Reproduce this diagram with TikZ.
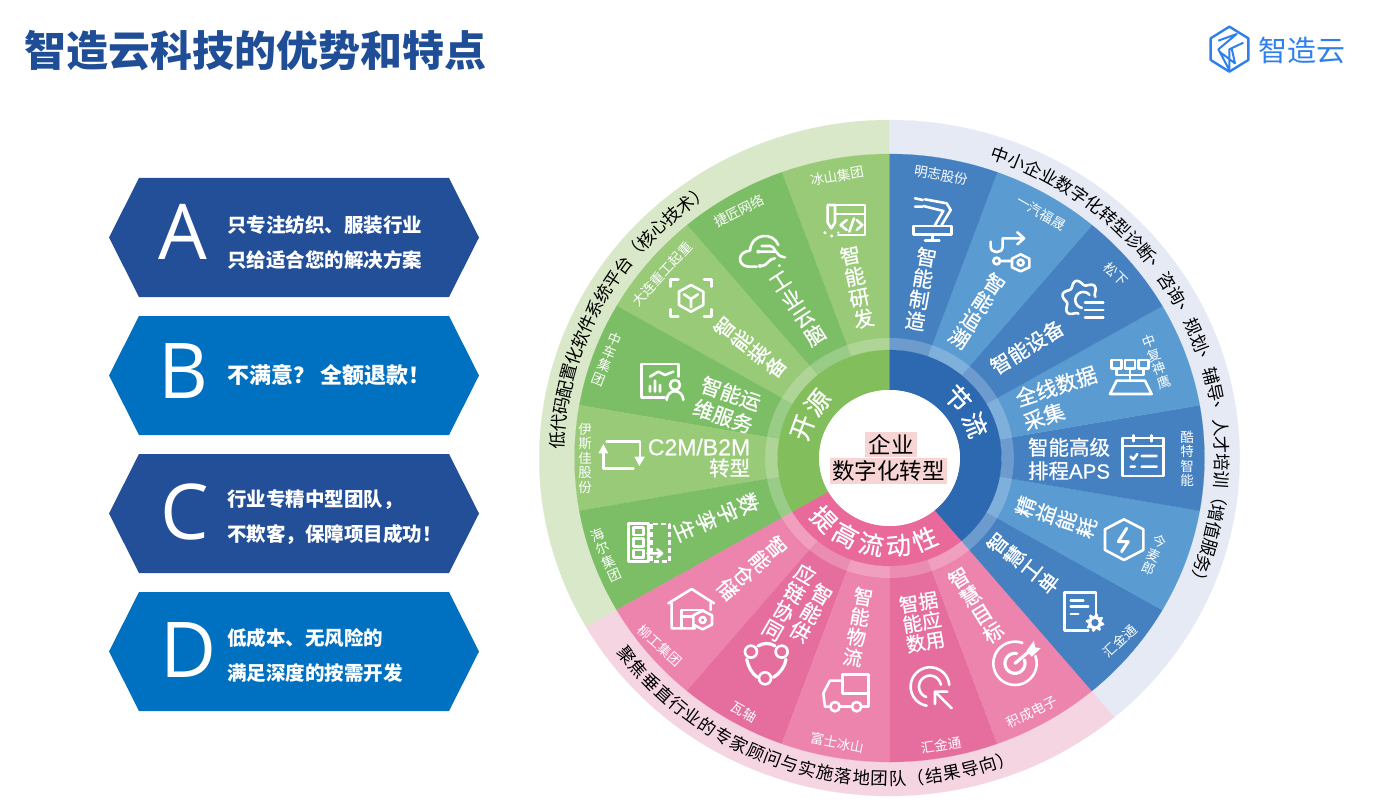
\documentclass[tikz,border=0pt]{standalone}
\usepackage{fontspec}
\setmainfont{Noto Sans CJK SC}
\newfontfamily\letterfont{Open Sans}
\newfontfamily\medfont[FakeBold=.7]{Noto Sans CJK SC}
\newfontfamily\latinfont[FakeBold=.4]{Liberation Sans}
\usetikzlibrary{positioning}
\definecolor{hexdark}{HTML}{234F99}
\definecolor{hexblue}{HTML}{0070C0}
\definecolor{titleblue}{HTML}{1F4E96}
\definecolor{logoblue}{HTML}{2F80ED}
\definecolor{blueA}{HTML}{4580C0}
\definecolor{blueB}{HTML}{5A9BD2}
\definecolor{blueC}{HTML}{2C69B1}
\definecolor{bluePale}{HTML}{E6EAF5}
\definecolor{greenA}{HTML}{98CA78}
\definecolor{greenB}{HTML}{7CBE66}
\definecolor{greenC}{HTML}{82BE5C}
\definecolor{greenPale}{HTML}{D9E8C8}
\definecolor{pinkA}{HTML}{EC84AE}
\definecolor{pinkB}{HTML}{E66E9E}
\definecolor{pinkC}{HTML}{E8699A}
\definecolor{pinkPale}{HTML}{F5D5E1}
\definecolor{hiPink}{HTML}{F8D5D5}
\newcommand{\annsec}[5]{\fill[#5,draw=#5,line width=.2] (#1:#3) arc[start angle=#1,end angle=#2,radius=#3] -- (#2:#4) arc[start angle=#2,end angle=#1,radius=#4] -- cycle;}
\begin{document}
\begin{tikzpicture}[x=1pt,y=-1pt]
    \tikzstyle{every node}=[inner sep=0pt,outer sep=0pt]
    \tikzstyle{hextext}=[white,anchor=west,font=\fontsize{19.5}{24}\selectfont\bfseries]
    \tikzstyle{hexletter}=[white,font=\fontsize{77}{77}\selectfont\letterfont]
    \tikzstyle{secname}=[white,align=center,font=\fontsize{20.5}{21.5}\selectfont\medfont]
    \tikzstyle{company}=[white,align=center,font=\fontsize{13.5}{14.5}\selectfont]
    \tikzstyle{ringr}=[font=\fontsize{17.5}{18}\selectfont]
    \tikzstyle{hubr}=[white,font=\fontsize{25}{26}\selectfont\medfont]
    \tikzstyle{icon}=[draw=white,line width=2.6pt,line cap=round,line join=round,fill=none]
    \useasboundingbox (0,0) rectangle (1394,805);

    \node[anchor=west,text=titleblue,font=\fontsize{42}{46}\selectfont\bfseries] (title) at (24,51) {智造云科技的优势和特点};
    \node[anchor=west,text=logoblue,font=\fontsize{29}{30}\selectfont] (logotext) at (1258,50) {智造云};

    % logo mark
    \begin{scope}[shift={(1190,10)},x=.3333pt,y=-.3333pt]
        \draw[logoblue,line width=2.4pt,line join=round] (118,50) -- (175,85) -- (175,150) -- (118,185) -- (62,150) -- (62,85) -- cycle;
        \draw[logoblue,line width=2pt,line join=round] (85,92) -- (140,72) -- (85,118) -- (118,180) (160,98) -- (118,118) -- (118,180) (88,125) -- (135,160) -- (125,115);
    \end{scope}

    % hexagons on the left
    \foreach \n/\yy/\cc/\ll/\lx/\ly in {a/237.5/hexdark/A/183/232,b/375.5/hexblue/B/183/371,c/513.5/hexdark/C/185/512,d/651.5/hexblue/D/189/650} {
        \fill[\cc] (109,\yy) -- (139,\yy-59.5) -- (449,\yy-59.5) -- (479,\yy) -- (449,\yy+59.5) -- (139,\yy+59.5) -- cycle;
        \node[hexletter] (let\n) at (\lx,\ly) {\ll};
    }
    \node[hextext] (a1) at (227,225) {只专注纺织、服装行业};
    \node[hextext] (a2) at (227,260) {只给适合您的解决方案};
    \node[hextext,font=\fontsize{22}{24}\selectfont\bfseries] (b1) at (227,375) {不满意？\hspace{6pt}全额退款！};
    \node[hextext] (c1) at (227,500) {行业专精中型团队，};
    \node[hextext] (c2) at (227,535) {不欺客，保障项目成功！};
    \node[hextext] (d1) at (227,638) {低成本、无风险的};
    \node[hextext] (d2) at (227,673) {满足深度的按需开发};

    % the wheel
    \begin{scope}[shift={(889.5,458)},y=1pt,xscale=1.036]
        \annsec{90}{210}{304}{338}{greenPale}
        \annsec{210}{310}{304}{338}{pinkPale}
        \annsec{310}{450}{304}{338}{bluePale}
        \foreach \s/\cc in {90/greenA,110/greenB,130/greenA,150/greenB,170/greenA,190/greenB,210/pinkA,230/pinkB,250/pinkA,270/pinkB,290/pinkA,310/blueA,330/blueB,350/blueA,370/blueB,390/blueA,410/blueB,430/blueA} {
            \pgfmathtruncatemacro{\e}{\s+20}
            \annsec{\s}{\e}{108}{304}{\cc}
        }
        \fill[white,opacity=.22,even odd rule] (0,0) circle (120) (0,0) circle (108);
        \annsec{90}{210}{68}{108}{greenC}
        \annsec{210}{310}{68}{108}{pinkC}
        \annsec{310}{450}{68}{108}{blueC}
        \fill[white] (0,0) circle (68);

        \foreach \ch [count=\i from 0] in {中,小,企,业,数,字,化,转,型,诊,断,、,咨,询,、,规,划,、,辅,导,、,人,才,培,训,（,增,值,服,务,）} {
            \pgfmathsetmacro{\ang}{70.6-\i*3.1}
            \node[ringr,rotate=\ang-90] (bc\i) at (\ang:321) {\ch};
        }
        \foreach \ch [count=\i from 0] in {低,代,码,配,置,化,软,件,系,统,平,台,（,核,心,技,术,）} {
            \pgfmathsetmacro{\ang}{176.8-\i*3.06}
            \node[ringr,rotate=\ang-90] (gc\i) at (\ang:321) {\ch};
        }
        \foreach \ch [count=\i from 0] in {聚,焦,垂,直,行,业,的,专,家,顾,问,与,实,施,落,地,团,队,（,结,果,导,向,）} {
            \pgfmathsetmacro{\ang}{217.9+\i*3.15}
            \node[ringr,rotate=\ang+90] (pc\i) at (\ang:321) {\ch};
        }
        \foreach \ch/\ang/\nm in {节/42/jie,流/22/liu,开/160/kai,源/141.5/yuan} {
            \node[hubr,rotate=\ang-90] (hub\nm) at (\ang:89) {\ch};
        }
        \foreach \ch [count=\i from 0] in {提,高,流,动,性} {
            \pgfmathsetmacro{\ang}{224+\i*17.2}
            \node[hubr,rotate=\ang+90] (hc\i) at (\ang:88) {\ch};
        }
    \end{scope}

    \node[fill=hiPink,minimum width=52pt,minimum height=25pt,font=\fontsize{22.5}{24}\selectfont] (hub1) at (891,444.5) {企业};
    \node[fill=hiPink,minimum width=117pt,minimum height=26pt,font=\fontsize{22.5}{24}\selectfont] (hub2) at (888.5,470.5) {数字化转型};

    % sector names
    \node[secname,rotate=-10] (s1) at (921,289) {智\\能\\制\\造};
    \node[secname,rotate=-33] (s2) at (977,311) {智\\能\\追\\溯};
    \node[secname,rotate=32] (s3) at (1027,347) {智能设备};
    \node[secname,rotate=18,align=left,font=\fontsize{21}{25}\selectfont\medfont] (s4) at (1060,398) {全线数据\\采集};
    \node[secname,font=\fontsize{20.5}{23.5}\selectfont\medfont] (s5) at (1069,459) {智能高级\\排程{\latinfont APS}};
    \node[secname,rotate=71] (s6) at (1056,517) {精\\益\\能\\耗};
    \node[secname,rotate=52] (s7) at (1023,563) {智\\慧\\工\\单};
    \node[secname,rotate=32] (s8) at (976,605) {智\\慧\\目\\标};
    \node[secname,rotate=10,font=\fontsize{19.5}{20}\selectfont\medfont] (s9) at (922,622) {智据\\能应\\数用};
    \node[secname,rotate=-10,font=\fontsize{19.5}{20.5}\selectfont\medfont] (s10) at (858,627) {智\\能\\物\\流};
    \node[secname,rotate=-30] (s11) at (811,613) {智\\能\\供};
    \node[secname,rotate=-30] (s12) at (789,602) {应\\链\\协\\同};
    \node[secname,rotate=-49] (s13) at (752,568) {智\\能\\仓\\储};
    \node[secname,rotate=-67,font=\fontsize{21}{23}\selectfont\medfont] (s14) at (717,517) {数\\字\\孪\\生};
    \node[secname,align=right,font=\fontsize{20.5}{20.5}\selectfont\medfont] (s15) at (699,458) {{\latinfont\fontsize{23}{20.5}\selectfont C2M/B2M}\\转型};
    \node[secname,rotate=-19,font=\fontsize{20.5}{24}\selectfont\medfont] (s16) at (727,405) {智能运\\维服务};
    \node[secname,rotate=52] (s17) at (750,347) {智\\能\\装\\备};
    \node[secname,rotate=33] (s18) at (798,309) {工\\业\\云\\脑};
    \node[secname,rotate=12] (s19) at (857,287) {智\\能\\研\\发};

    % company names
    \node[company,rotate=-10] (c1n) at (941,175) {明志股份};
    \node[company,rotate=-30] (c2n) at (1041,213) {一汽福晟};
    \node[company,rotate=-45] (c3n) at (1116,274) {松下};
    \node[company,rotate=20] (c4n) at (1157,362) {中\\复\\神\\鹰};
    \node[company] (c5n) at (1187,459) {酷\\特\\智\\能};
    \node[company,rotate=-23] (c6n) at (1154,555) {今\\麦\\郎};
    \node[company,rotate=43] (c7n) at (1120,641) {汇金通};
    \node[company,rotate=26] (c8n) at (1032,712) {积成电子};
    \node[company,rotate=9] (c9n) at (941,745) {汇金通};
    \node[company,rotate=-11] (c10n) at (837,743) {富士冰山};
    \node[company,rotate=-30] (c11n) at (744,712) {瓦轴};
    \node[company,rotate=-42] (c12n) at (660,646) {柳工集团};
    \node[company,rotate=24] (c13n) at (606,555) {海\\尔\\集\\团};
    \node[company] (c14n) at (585,458) {伊\\斯\\佳\\股\\份};
    \node[company,rotate=-22] (c15n) at (607,359) {中\\车\\集\\团};
    \node[company,rotate=47] (c16n) at (662,274) {大连重工起重};
    \node[company,rotate=27] (c17n) at (739,211) {捷匠网络};
    \node[company,rotate=10] (c18n) at (837,176) {冰山集团};

    % icons, upper right
    \begin{scope}[shift={(880,110)},x=.3333pt,y=-.3333pt]
        \draw[icon] (100,348) rectangle (215,373) (157,373) -- (157,392) (135,392) -- (178,392);
        \draw[icon] (185,345) -- (212,300) -- (200,280) -- (135,268) (165,345) -- (190,303) -- (130,288) (105,265) -- (128,270) (105,290) -- (128,290);

        \draw[icon] (332,395) -- (332,410) .. controls (332,432) and (368,432) .. (368,410) -- (368,385) -- (430,385) (412,367) -- (432,385) -- (412,403);
        \draw[icon] (350,453) circle (10) (360,453) -- (396,453);
        \draw[icon] (422,433) -- (448,446) -- (448,472) -- (422,484) -- (396,472) -- (396,446) -- cycle (422,458) circle (9);

        \draw[icon] plot[smooth,domain=100:350,samples=70] ({603+(50+7*sin(6*\x))*cos(\x)},{568+(50+7*sin(6*\x))*sin(\x)});
        \draw[icon] plot[smooth,domain=100:320,samples=30] ({610+24*cos(\x)},{570+24*sin(\x)});
        \draw[icon] (615,578) -- (670,578) (615,600) -- (670,600) (615,622) -- (670,622);

        \draw[icon] (695,750) rectangle (725,775) (735,750) rectangle (765,775) (775,750) rectangle (805,775);
        \draw[icon] (750,775) -- (750,812) (710,775) -- (710,795) -- (790,795) -- (790,775);
        \draw[icon] (710,812) -- (795,812) -- (815,852) -- (690,852) -- cycle;
    \end{scope}

    % icons, lower right
    \begin{scope}[shift={(880,440)},x=.3333pt,y=-.3333pt]
        \draw[icon] (727,-6) rectangle (850,108) (727,18) -- (850,18) (760,-14) -- (760,4) (815,-14) -- (815,4);
        \draw[icon] (752,50) -- (760,58) -- (772,42) (785,48) -- (830,48) (752,80) -- (765,80) (785,80) -- (830,80);

        \draw[icon] (732,238) -- (790,268) -- (790,330) -- (732,360) -- (675,330) -- (675,268) -- cycle;
        \draw[icon,line width=3pt] (740,265) -- (715,305) -- (745,305) -- (725,335);

        \draw[icon] (625,572) -- (553,572) -- (553,458) -- (648,458) -- (648,525);
        \draw[icon] (572,482) -- (610,482) (572,500) -- (625,500) (572,522) -- (595,522);
        \fill[white] plot[smooth cycle,domain=0:350,samples=36] ({645+(24+5*sin(8*\x))*cos(\x)},{548+(24+5*sin(8*\x))*sin(\x)});
        \fill[blueA] (645,548) circle (11);

        \draw[icon] plot[smooth,domain=-20:290,samples=50] ({405+65*cos(\x)},{670+65*sin(\x)});
        \draw[icon,line width=3.2pt] plot[smooth,domain=-20:280,samples=40] ({405+30*cos(\x)},{670+30*sin(\x)});
        \draw[icon,line width=3.2pt] (405,670) -- (455,628);
        \fill[white] (440,632) -- (462,602) -- (465,622) -- (482,625) -- (455,650) -- cycle;

        \draw[icon] plot[smooth,domain=100:355,samples=50] ({150+58*cos(\x)},{740+58*sin(\x)});
        \draw[icon] plot[smooth,domain=110:350,samples=40] ({150+33*cos(\x)},{740+33*sin(\x)});
        \draw[icon] (215,805) -- (165,755) (165,792) -- (165,755) -- (202,755);
    \end{scope}

    % icons, lower left
    \begin{scope}[shift={(560,440)},x=.3333pt,y=-.3333pt]
        \draw[icon] (848,760) -- (848,703) -- (925,703) -- (925,800) -- (905,800) (840,800) -- (875,800) (848,760) -- (925,760);
        \draw[icon] (810,800) -- (795,800) -- (790,760) -- (810,722) -- (848,722);
        \draw[icon] (825,800) circle (14) (890,800) circle (14);

        \draw[icon] (573,635) circle (18) (665,635) circle (18) (615,715) circle (18);
        \draw[icon,line width=3.2pt] (594,618) .. controls (610,608) and (630,608) .. (645,618);
        \draw[icon,line width=3.2pt] (560,658) .. controls (565,680) and (575,700) .. (592,712);
        \draw[icon,line width=3.2pt] (678,658) .. controls (675,680) and (660,700) .. (640,712);

        \draw[icon] (325,490) -- (395,447) -- (462,490) (335,490) -- (335,565) -- (405,565) (452,490) -- (452,510);
        \draw[icon] (365,565) -- (365,510) -- (430,510) (365,530) -- (400,530) -- (400,565);
        \draw[icon,fill=pinkA] (428,512) -- (456,526) -- (456,554) -- (428,568) -- (400,554) -- (400,526) -- cycle (428,540) circle (9);
    \end{scope}

    % icons, left
    \begin{scope}[shift={(570,420)},x=.3333pt,y=-.3333pt]
        \draw[icon,line width=2.8pt] (175,310) rectangle (235,425);
        \draw[icon] (190,322) rectangle (220,345) (190,355) rectangle (220,380) (190,390) rectangle (220,412);
        \draw[icon,dash pattern=on 5pt off 3pt,line cap=butt] (245,312) rectangle (298,425);
        \draw[icon] (232,400) -- (275,400) (262,388) -- (276,400) -- (262,412);

        \draw[icon,line width=2.8pt] (100,100) -- (100,145) -- (190,145) (110,65) -- (210,65) -- (210,110);
        \fill[white] (85,100) -- (100,72) -- (115,100) -- cycle (193,110) -- (208,138) -- (225,110) -- cycle;
    \end{scope}

    % icons, upper left
    \begin{scope}[shift={(530,110)},x=.3333pt,y=-.3333pt]
        \draw[icon] (445,800) -- (445,762) -- (335,762) -- (335,862) -- (405,862);
        \draw[icon] (360,800) -- (385,785) -- (405,795) -- (430,785) (375,812) -- (375,845) (360,828) -- (360,845) (390,825) -- (390,845);
        \draw[icon] (435,825) circle (15) (410,870) .. controls (412,835) and (458,835) .. (460,870);

        \draw[icon] (483,525) -- (520,545) -- (520,585) -- (483,605) -- (447,585) -- (447,545) -- cycle;
        \draw[icon] (483,567) -- (483,592) (483,567) -- (462,553) (483,567) -- (504,553);
        \draw[icon] (422,530) -- (422,508) -- (445,508) (522,508) -- (545,508) -- (545,530) (422,598) -- (422,620) -- (445,620) (522,620) -- (545,620) -- (545,598);

        \draw[icon] (680,470) -- (655,470) .. controls (622,468) and (620,425) .. (660,422) .. controls (665,368) and (730,365) .. (745,405);
        \draw[icon] (695,408) -- (722,408) .. controls (735,408) and (735,440) .. (765,442) (690,425) -- (735,425) (692,468) .. controls (715,468) and (715,445) .. (735,445);
        \fill[white] (685,425) circle (6) (748,467) circle (5) (690,468) circle (6);

        \draw[icon] (905,285) -- (1005,285) -- (1005,375) -- (925,375) (915,312) -- (1005,312);
        \draw[icon] (893,285) -- (893,338) -- (904,355) -- (915,338) -- (915,285) -- (893,285);
        \fill[white] (885,368) circle (5) (905,378) circle (5) (925,368) circle (4);
        \draw[icon] (950,330) -- (932,345) -- (950,360) (980,330) -- (997,345) -- (980,360) (972,325) -- (958,365);
    \end{scope}
\end{tikzpicture}
\end{document}
